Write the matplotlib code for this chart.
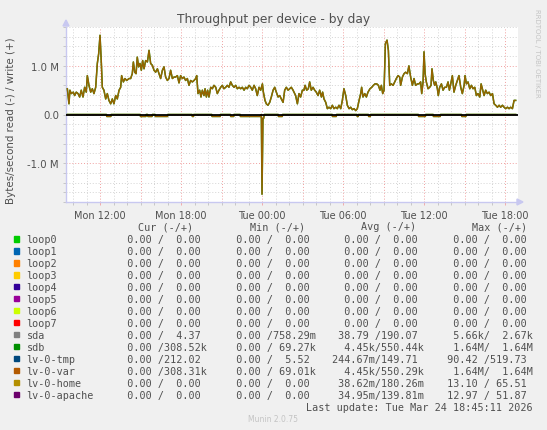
import numpy as np
import matplotlib
matplotlib.use("Agg")
import matplotlib.pyplot as plt
from matplotlib.patches import Polygon, Rectangle

W, H = 547, 431

# ------------------------------------------------------------------ data
# hours since Mon 00:00, write side (+) in MB/s
write_hours = [
    9.58, 9.70, 9.77, 9.87, 10.02, 10.12, 10.24, 10.37, 10.49, 10.61,
    10.74, 10.86, 10.98, 11.06, 11.18, 11.31, 11.43, 11.55, 11.68, 11.80,
    11.90, 12.00, 12.10, 12.17, 12.29, 12.42, 12.54, 12.66, 12.79, 12.91,
    13.03, 13.16, 13.28, 13.41, 13.53, 13.60, 13.73, 13.85, 13.97, 14.15,
    14.27, 14.39, 14.47, 14.57, 14.67, 14.76, 14.86, 14.96, 15.06, 15.16,
    15.26, 15.38, 15.51, 15.63, 15.75, 15.88, 16.00, 16.12, 16.25, 16.37,
    16.49, 16.62, 16.74, 16.86, 16.99, 17.11, 17.23, 17.36, 17.48, 17.60,
    17.73,
    17.85, 17.97, 18.10, 18.22, 18.34, 18.47, 18.59, 18.71, 18.84, 18.96,
    19.09, 19.16, 19.26, 19.38, 19.48, 19.58, 19.70, 19.78, 19.88, 19.97,
    20.07, 20.20, 20.32, 20.44, 20.57, 20.69, 20.81, 20.94, 21.06, 21.18,
    21.31, 21.43, 21.55, 21.68, 21.80, 21.93, 22.05, 22.17, 22.30, 22.42,
    22.54, 22.67, 22.79, 22.91, 23.04, 23.16, 23.28, 23.41, 23.53, 23.65,
    23.78, 23.90, 24.03, 24.10, 24.22, 24.32, 24.44, 24.57, 24.69, 24.82,
    24.94, 25.06, 25.19, 25.31, 25.43, 25.56, 25.68, 25.80, 25.93, 26.05,
    26.17, 26.30,
    26.37, 26.49, 26.62, 26.74, 26.86, 26.99, 27.11, 27.19, 27.31, 27.43,
    27.53, 27.65, 27.78, 27.90, 28.02, 28.15, 28.27, 28.40, 28.49, 28.59,
    28.72, 28.84, 28.96, 29.09, 29.21, 29.33, 29.46, 29.58, 29.70, 29.83,
    29.95, 30.07, 30.20, 30.32, 30.45, 30.57, 30.69, 30.82, 30.94, 31.06,
    31.19, 31.31, 31.38, 31.48, 31.61, 31.73, 31.85, 32.00, 32.13, 32.25,
    32.37, 32.50, 32.62, 32.74, 32.84, 32.94, 33.04, 33.14, 33.26, 33.36,
    33.46, 33.58, 33.71, 33.83, 33.95, 34.08, 34.20, 34.27, 34.40, 34.52,
    34.64, 34.77,
    34.88, 35.01, 35.14, 35.26, 35.38, 35.51, 35.63, 35.75, 35.83, 35.93,
    36.00, 36.08, 36.17, 36.30, 36.42, 36.52, 36.59, 36.69, 36.79, 36.87,
    36.99, 37.06, 37.16, 37.29, 37.41, 37.53, 37.66, 37.78, 37.88, 37.98,
    38.10, 38.22, 38.35, 38.47, 38.59, 38.72, 38.84, 38.97, 39.04, 39.14,
    39.26, 39.39, 39.51, 39.63, 39.76, 39.88, 40.00, 40.13, 40.23, 40.32,
    40.45, 40.57, 40.69, 40.82, 40.94, 41.07, 41.19, 41.31, 41.44, 41.56,
    41.68, 41.81, 41.93, 42.05, 42.18, 42.30, 42.42, 42.55, 42.67, 42.79,
]
write_mb = [
    0.53, 0.22, 0.50, 0.43, 0.46, 0.39, 0.46, 0.43, 0.36, 0.50,
    0.36, 0.56, 0.46, 0.80, 0.60, 0.46, 0.53, 0.43, 0.56, 1.05,
    1.25, 1.63, 1.05, 0.56, 0.50, 0.32, 0.43, 0.29, 0.22, 0.32,
    0.22, 0.39, 0.32, 0.50, 0.56, 0.80, 0.67, 0.74, 0.70, 0.74,
    0.74, 0.84, 1.08, 0.87, 0.84, 1.18, 0.98, 1.05, 0.91, 1.11,
    0.94, 1.11, 1.08, 1.32, 1.05, 1.01, 0.91, 0.87, 0.94, 0.84,
    0.74, 0.91, 0.98, 0.77, 0.70, 0.74, 0.91, 0.74, 0.77, 0.77,
    0.80,
    0.65, 0.80, 0.74, 0.77, 0.70, 0.74, 0.60, 0.70, 0.67, 0.70,
    0.74, 0.80, 0.43, 0.50, 0.36, 0.50, 0.39, 0.53, 0.36, 0.50,
    0.36, 0.56, 0.53, 0.60, 0.56, 0.43, 0.50, 0.56, 0.60, 0.53,
    0.56, 0.60, 0.56, 0.67, 0.60, 0.56, 0.60, 0.53, 0.56, 0.53,
    0.56, 0.50, 0.56, 0.53, 0.60, 0.56, 0.50, 0.60, 0.53, 0.39,
    0.56, 0.50, 0.63, 0.46, 0.29, 0.22, 0.19, 0.25, 0.36, 0.50,
    0.56, 0.46, 0.36, 0.39, 0.32, 0.25, 0.50, 0.56, 0.50, 0.53,
    0.56, 0.50,
    0.46, 0.39, 0.22, 0.43, 0.36, 0.50, 0.50, 0.60, 0.50, 0.53,
    0.67, 0.50, 0.56, 0.50, 0.46, 0.39, 0.50, 0.36, 0.46, 0.32,
    0.25, 0.12, 0.15, 0.12, 0.19, 0.12, 0.15, 0.12, 0.19, 0.12,
    0.29, 0.53, 0.39, 0.19, 0.12, 0.15, 0.10, 0.12, 0.08, 0.12,
    0.29, 0.43, 0.56, 0.36, 0.43, 0.36, 0.46, 0.53, 0.56, 0.60,
    0.63, 0.63, 0.60, 0.50, 0.60, 0.43, 0.50, 1.46, 1.53, 1.32,
    0.60, 0.63, 0.60, 0.67, 0.74, 0.80, 0.77, 0.60, 0.77, 0.84,
    0.87, 0.84,
    1.00, 0.77, 0.60, 0.74, 0.60, 0.63, 0.63, 0.67, 0.43, 0.67,
    1.29, 0.84, 0.67, 0.53, 0.56, 0.60, 0.94, 0.70, 0.60, 0.67,
    0.53, 0.39, 0.56, 0.63, 0.50, 0.56, 0.56, 0.67, 0.50, 0.63,
    0.80, 0.46, 0.60, 0.70, 0.80, 0.56, 0.43, 0.60, 0.80, 0.63,
    0.67, 0.53, 0.60, 0.53, 0.56, 0.39, 0.43, 0.36, 0.63, 0.53,
    0.39, 0.50, 0.43, 0.46, 0.39, 0.43, 0.22, 0.19, 0.15, 0.19,
    0.15, 0.19, 0.15, 0.12, 0.15, 0.12, 0.15, 0.12, 0.29, 0.29,
]

# read side (-) in MB/s, drawn below zero
read_hours = [
    9.58, 12.48, 12.50, 12.80, 12.82,
    14.98, 15.00, 15.40, 15.42, 15.52, 15.55, 15.85, 15.88,
    16.08, 16.10, 17.00, 17.02,
    18.82, 18.84, 18.92, 18.94,
    20.28, 20.30, 20.90, 20.92,
    21.66, 21.68, 21.90, 21.92,
    22.38, 22.40, 23.90, 23.95, 24.00, 24.07, 24.12, 24.17,
    25.20, 25.22, 25.50, 25.52,
    29.20, 29.22, 29.50, 29.52,
    31.04, 31.06, 31.12, 31.14,
    31.88, 31.90, 32.02, 32.04,
    35.58, 35.60, 36.10, 36.12,
    36.68, 36.70, 37.20, 37.22,
    38.78, 38.80, 39.10, 39.12,
    42.79,
]
read_mb = [
    0.0, 0.0, -0.04, -0.04, 0.0,
    0.0, -0.04, -0.04, 0.0, 0.0, -0.04, -0.04, 0.0,
    0.0, -0.04, -0.04, 0.0,
    0.0, -0.04, -0.04, 0.0,
    0.0, -0.04, -0.04, 0.0,
    0.0, -0.04, -0.04, 0.0,
    0.0, -0.04, -0.04, 0.0, -1.64, -0.08, -0.08, 0.0,
    0.0, -0.04, -0.04, 0.0,
    0.0, -0.04, -0.04, 0.0,
    0.0, -0.04, -0.04, 0.0,
    0.0, -0.04, -0.04, 0.0,
    0.0, -0.04, -0.04, 0.0,
    0.0, -0.04, -0.04, 0.0,
    0.0, -0.04, -0.04, 0.0,
    0.0,
]

x_tick_hours = [12, 18, 24, 30, 36, 42]
x_tick_labels = ["Mon 12:00", "Mon 18:00", "Tue 00:00",
                 "Tue 06:00", "Tue 12:00", "Tue 18:00"]
y_tick_values = [-1.0, 0.0, 1.0]
y_tick_labels = ["-1.0 M", "0.0", "1.0 M"]

legend_names = ["loop0", "loop1", "loop2", "loop3", "loop4", "loop5",
                "loop6", "loop7", "sda", "sdb", "lv-0-tmp", "lv-0-var",
                "lv-0-home", "lv-0-apache"]
legend_colors = ["#00CC00", "#0066B3", "#FF8000", "#FFCC00", "#330099",
                 "#990099", "#CCFF00", "#FF0000", "#808080", "#008F00",
                 "#00487D", "#B35A00", "#B38F00", "#6B006B"]
zero_pair = ("0.00", "0.00")
cur_vals = [zero_pair] * 8 + [("0.00", "4.37"), ("0.00", "308.52k"),
            ("0.00", "212.02"), ("0.00", "308.31k"), zero_pair, zero_pair]
min_vals = [zero_pair] * 8 + [("0.00", "758.29m"), ("0.00", "69.27k"),
            ("0.00", "5.52"), ("0.00", "69.01k"), zero_pair, zero_pair]
avg_vals = [zero_pair] * 8 + [("38.79", "190.07"), ("4.45k", "550.44k"),
            ("244.67m", "149.71"), ("4.45k", "550.29k"),
            ("38.62m", "180.26m"), ("34.95m", "139.81m")]
max_vals = [zero_pair] * 8 + [("5.66k", "2.67k"), ("1.64M", "1.64M"),
            ("90.42", "519.73"), ("1.64M", "1.64M"),
            ("13.10", "65.51"), ("12.97", "51.87")]

# ------------------------------------------------------------------ helpers
def fx(px):
    return px / W

def fy(py):
    return 1 - py / H

def gprint(pair):
    out = []
    for v in pair:
        if v[-1] in "mkM":
            out.append(f"{v[:-1]:>6}{v[-1]}")
        else:
            out.append(f"{v:>6} ")
    return out[0] + "/" + out[1]

TXT = "#505050"
AXIS = "#C8C8F0"
MONO = "DejaVu Sans Mono"

# ------------------------------------------------------------------ figure
fig = plt.figure(figsize=(W / 100, H / 100), dpi=100)
fig.set_facecolor("#F0F0F0")

x0, x1, y0, y1 = 66, 517.7, 28, 203
ax = fig.add_axes([fx(x0), fy(y1), fx(x1) - fx(x0), fy(y0) - fy(y1)])
ax.set_facecolor("white")
ax.set_xlim(9.48, 42.94)
ax.set_ylim(-1.8, 1.8)

# grid: gray dotted every hour / 0.2M, red every 3h / 1M
for h in range(10, 43):
    c = "#F0A0A0" if h % 3 == 0 else "#D4D4D4"
    ax.axvline(h, color=c, lw=0.7, ls=(0, (1, 2)), zorder=1)
for k in range(-9, 10):
    c = "#F0A0A0" if k % 5 == 0 else "#D4D4D4"
    ax.axhline(k * 0.2, color=c, lw=0.7, ls=(0, (1, 2)), zorder=1)

wh = np.array(write_hours)
wm = np.array(write_mb)
rh = np.array(read_hours)
rm = np.array(read_mb)

# sdb underneath, lv-0-var on top -> olive/brown mix as in munin
ax.plot(wh, wm, color="#008F00", lw=1.1, zorder=3)
ax.plot(rh, rm, color="#008F00", lw=1.1, zorder=3)
ax.plot(wh, wm, color="#B35A00", lw=1.0, alpha=0.85, zorder=4)
ax.plot(rh, rm, color="#B35A00", lw=1.0, alpha=0.85, zorder=4)

# zero rule drawn over the idle devices
ax.axhline(0, color="black", lw=1.3, zorder=5)

for s in ["top", "right"]:
    ax.spines[s].set_visible(False)
for s in ["left", "bottom"]:
    ax.spines[s].set_color(AXIS)
    ax.spines[s].set_linewidth(1.0)

ax.set_xticks(x_tick_hours)
ax.set_xticklabels(x_tick_labels, fontsize=7, color=TXT)
ax.set_xticks(range(10, 43), minor=True)
ax.set_yticks(y_tick_values)
ax.set_yticklabels(y_tick_labels, fontsize=7.3, color=TXT)
ax.set_yticks(np.arange(-1.8, 1.81, 0.2), minor=True)
ax.tick_params(which="both", direction="out", length=2, width=0.6,
               color="#C0C0C0", pad=3)
ax.tick_params(axis="x", which="major", color="#F0A0A0", pad=4)

# axis arrow heads
fig.add_artist(Polygon([(fx(63), fy(27)), (fx(69), fy(27)), (fx(66), fy(21))],
                       closed=True, color=AXIS, transform=fig.transFigure))
fig.add_artist(Polygon([(fx(517), fy(200)), (fx(517), fy(206)), (fx(523), fy(203))],
                       closed=True, color=AXIS, transform=fig.transFigure))

# titles
fig.text(fx(273.5), fy(20), "Throughput per device - by day", ha="center",
         va="center", fontsize=8.8, color=TXT)
fig.text(fx(11), fy(121), "Bytes/second read (-) / write (+)", rotation=90,
         ha="center", va="center", fontsize=7.4, color=TXT)
fig.text(fx(537.5), fy(53), "RRDTOOL / TOBI OETIKER", rotation=270,
         ha="center", va="center", fontsize=5, color="#C4C4C4")

# legend table
fs = 7.3
for x, lab in [(138, "Cur (-/+)"), (249.5, "Min (-/+)"),
               (361, "Avg (-/+)"), (472.5, "Max (-/+)")]:
    fig.text(fx(x), fy(227.5), lab, ha="left", va="center",
             fontsize=fs, family=MONO, color=TXT)

for i, name in enumerate(legend_names):
    yy = 240 + i * 11.97
    fig.add_artist(Rectangle((fx(14), fy(yy + 2.6)), fx(5.2), 5.2 / H,
                             color=legend_colors[i], transform=fig.transFigure))
    fig.text(fx(26.5), fy(yy), name, ha="left", va="center",
             fontsize=fs, family=MONO, color=TXT)
    for x, vals in [(114.7, cur_vals), (223.5, min_vals),
                    (332.5, avg_vals), (440.9, max_vals)]:
        fig.text(fx(x), fy(yy), gprint(vals[i]), ha="left", va="center",
                 fontsize=fs, family=MONO, color=TXT)

fig.text(fx(533), fy(407.7), "Last update: Tue Mar 24 18:45:11 2026",
         ha="right", va="center", fontsize=fs, family=MONO, color=TXT)
fig.text(fx(273.5), fy(420), "Munin 2.0.75", ha="center", va="center",
         fontsize=5.5, color="#C4C4C4")

fig.savefig("out.png", dpi=100, facecolor=fig.get_facecolor())
